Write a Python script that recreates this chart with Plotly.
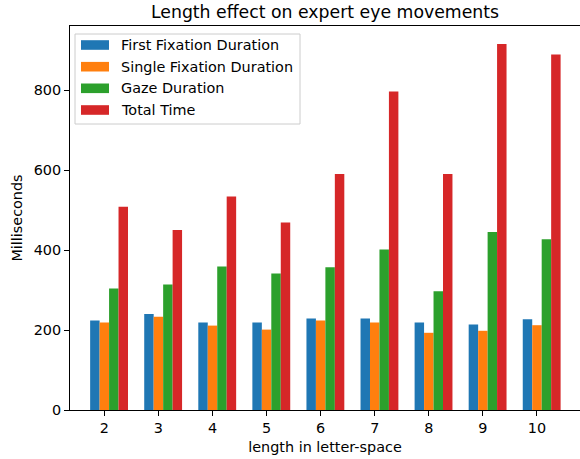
import plotly.graph_objects as go

# ---- data ----
lengths = [2, 3, 4, 5, 6, 7, 8, 9, 10]
first_fixation = [224, 240, 219, 219, 229, 229, 219, 214, 227]
single_fixation = [219, 233, 211, 201, 224, 219, 193, 198, 212]
gaze_duration = [304, 314, 359, 341, 357, 401, 297, 445, 427]
total_time = [508, 450, 534, 469, 590, 796, 590, 915, 889]
series_names = ["First Fixation Duration", "Single Fixation Duration",
                "Gaze Duration", "Total Time"]
y_ticks = [0, 200, 400, 600, 800]

# ---- style ----
colors = ["#1f77b4", "#ff7f0e", "#2ca02c", "#d62728"]
W, H = 580, 459
ML, MR, MT, MB = 70, 0, 26, 49
PW, PH = W - ML - MR, H - MT - MB
BAR_W = 0.175
FONT = "DejaVu Sans"
FS = 14.4
FS_TITLE = 17.3

series = [first_fixation, single_fixation, gaze_duration, total_time]

fig = go.Figure()
for i, (name, vals, c) in enumerate(zip(series_names, series, colors)):
    fig.add_trace(go.Bar(
        x=lengths, y=vals, name=name, width=BAR_W,
        offset=(i - 1.5) * BAR_W,
        marker=dict(color=c, line=dict(width=0)),
        showlegend=False,
    ))

# custom legend (matplotlib style)
def px_x(px):
    return (px - ML) / PW

def px_y(py):
    return (H - MB - py) / PH

shapes = [dict(type="rect", xref="paper", yref="paper",
               x0=px_x(75), x1=px_x(300), y0=px_y(124), y1=px_y(34),
               line=dict(color="#cccccc", width=1), fillcolor="rgba(255,255,255,0.8)",
               layer="above")]
annotations = []
row_y = [45, 66.7, 88.3, 110]
for name, c, ry in zip(series_names, colors, row_y):
    shapes.append(dict(type="rect", xref="paper", yref="paper",
                       x0=px_x(81), x1=px_x(109), y0=px_y(ry + 4.8), y1=px_y(ry - 4.8),
                       line=dict(width=0), fillcolor=c, layer="above"))
    annotations.append(dict(xref="paper", yref="paper", x=px_x(119), y=px_y(ry),
                            xanchor="left", yanchor="middle", text=name, showarrow=False,
                            font=dict(family=FONT, size=FS, color="black")))

fig.update_layout(
    width=W, height=H,
    margin=dict(l=ML, r=MR, t=MT, b=MB, pad=0),
    plot_bgcolor="white", paper_bgcolor="white",
    barmode="overlay",
    font=dict(family=FONT, size=FS, color="black"),
    title=dict(text="Length effect on expert eye movements",
               x=(ML + PW / 2) / W, xanchor="center", xref="container",
               y=1 - 12 / H, yanchor="middle", yref="container",
               font=dict(family=FONT, size=FS_TITLE, color="black")),
    shapes=shapes,
    annotations=annotations,
    xaxis=dict(range=[1.365, 10.796], tickvals=lengths,
               ticktext=[str(v) for v in lengths],
               showline=True, mirror=True, linecolor="black", linewidth=1,
               ticks="outside", ticklen=5, tickwidth=1, tickcolor="black",
               tickfont=dict(family=FONT, size=FS),
               showgrid=False, zeroline=False, automargin=False,
               title=dict(text="length in letter-space", standoff=6,
                          font=dict(family=FONT, size=FS))),
    yaxis=dict(range=[0, 960], tickvals=y_ticks,
               showline=True, mirror=True, linecolor="black", linewidth=1,
               ticks="outside", ticklen=5, tickwidth=1, tickcolor="black",
               tickfont=dict(family=FONT, size=FS),
               showgrid=False, zeroline=False, automargin=False,
               title=dict(text="Milliseconds", standoff=7,
                          font=dict(family=FONT, size=FS))),
)

fig.write_html("out.html", config={"displayModeBar": False},
               post_script="document.body.style.margin='0';document.body.style.padding='0';")
